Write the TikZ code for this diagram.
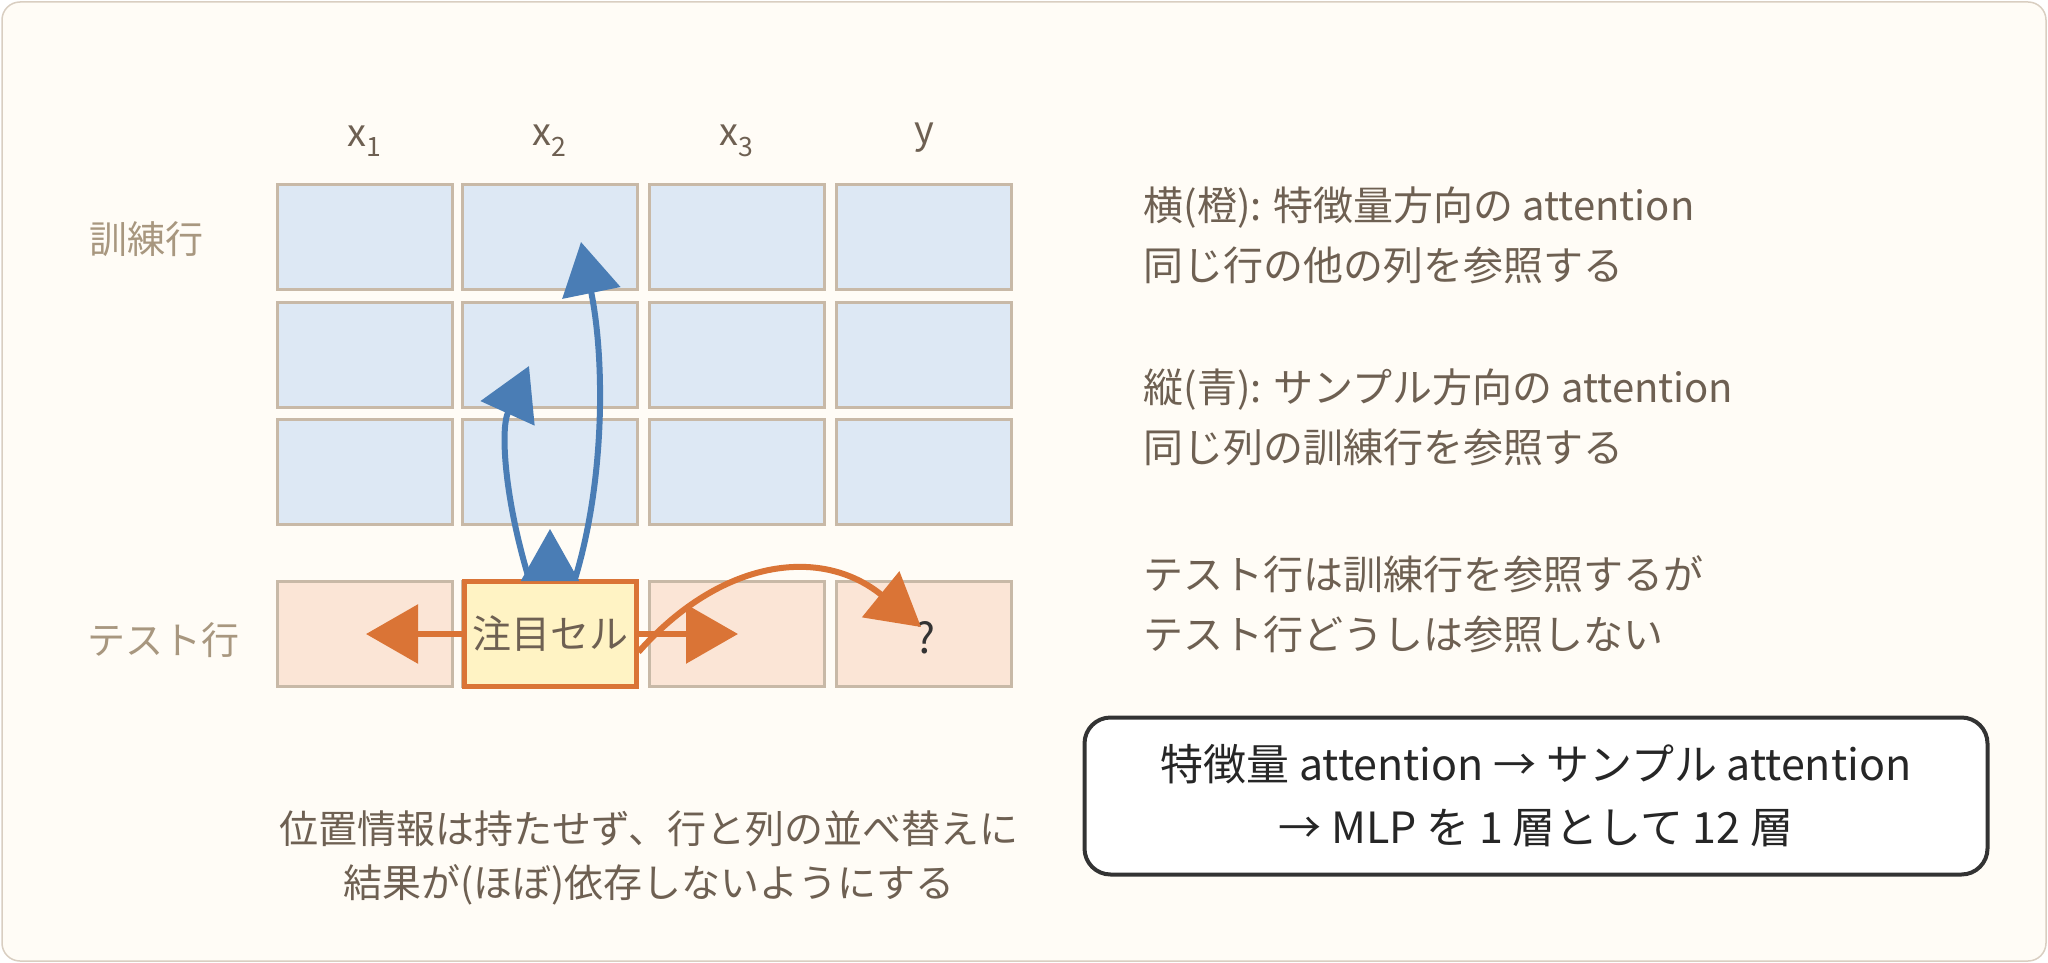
\documentclass[tikz,border=0pt]{standalone}
\usepackage{fontspec}
\setmainfont{Noto Sans CJK JP}
\usetikzlibrary{arrows.meta}
\definecolor{txt}{HTML}{6E6052}
\definecolor{lbl}{HTML}{A8977F}
\definecolor{cellb}{HTML}{DDE8F4}
\definecolor{celle}{HTML}{C8B9A7}
\definecolor{testf}{HTML}{FBE5D6}
\definecolor{focusf}{HTML}{FFF3C4}
\definecolor{orng}{HTML}{DA7436}
\definecolor{blu}{HTML}{4A7DB5}
\definecolor{paper}{HTML}{FFFCF6}
\tikzset{
  cell/.style={draw=celle, line width=3pt, minimum width=175pt, minimum height=105pt, inner sep=0pt},
  note/.style={text=txt, font=\fontsize{40}{60}\selectfont, anchor=west, align=left},
  big/.style={-{Triangle[width=58pt,length=52pt]}, line width=6pt}
}
\begin{document}
\begin{tikzpicture}[x=1pt,y=-1pt]
    \useasboundingbox (0,0) rectangle (2048,963);
    \draw [draw=celle!70, fill=paper, rounded corners=18pt, line width=1.5pt] (2,2) rectangle (2046,961);

    % grid
    \foreach \c/\x in {1/365, 2/550, 3/737, 4/924} {
        \foreach \r/\y in {1/237, 2/355, 3/472}
            \node [cell, fill=cellb] (c\r\c) at (\x, \y) {};
        \node [cell, fill=testf] (t\c) at (\x, 634) {};
    }
    \node [text=txt, font=\fontsize{38}{40}\selectfont] at (365, 141) {x\textsubscript{1}};
    \node [text=txt, font=\fontsize{38}{40}\selectfont] at (550, 141) {x\textsubscript{2}};
    \node [text=txt, font=\fontsize{38}{40}\selectfont] at (737, 141) {x\textsubscript{3}};
    \node [text=txt, font=\fontsize{38}{40}\selectfont] at (924, 138) {y};
    \node [text=lbl, font=\fontsize{38}{40}\selectfont] (train) at (146, 239) {訓練行};
    \node [text=lbl, font=\fontsize{38}{40}\selectfont] (test) at (163, 640) {テスト行};

    \node [cell, draw=orng, line width=5pt, fill=focusf, minimum width=172pt, text=txt,
           font=\fontsize{39}{40}\selectfont] (focus) at (550, 634) {注目セル};
    \node [text=black!80, font=\fontsize{42}{44}\selectfont] (q) at (925, 638) {?};

    % arrows
    \draw [big, orng] (focus.west) -- (366, 634);
    \draw [big, orng] (focus.east) -- (738, 634);
    \draw [big, orng] ([yshift=-18pt]focus.east) .. controls (720, 560) and (820, 545) .. (921, 627);
    \coordinate (up) at (550, 529);
    \draw [big, blu, line width=2pt] (focus.north) -- (up);
    \draw [big, blu] ([xshift=-21pt]focus.north) .. controls (505, 500) and (500, 430) .. (529, 366);
    \draw [big, blu] ([xshift=25pt]focus.north) .. controls (605, 480) and (605, 360) .. (581, 242);

    % notes
    \node [note] at (1140, 235) {横(橙): 特徴量方向の attention\\同じ行の他の列を参照する};
    \node [note] at (1140, 417) {縦(青): サンプル方向の attention\\同じ列の訓練行を参照する};
    \node [note] at (1140, 604) {テスト行は訓練行を参照するが\\テスト行どうしは参照しない};
    \node [draw=black!80, line width=4pt, rounded corners=26pt, fill=white, minimum width=903pt,
           minimum height=157pt, align=center, text=black!85, font=\fontsize{43}{63}\selectfont]
          (summary) at (1536, 796) {特徴量 attention → サンプル attention\\→ MLP を 1 層として 12 層};
    \node [text=txt, align=center, font=\fontsize{39}{54}\selectfont] (foot) at (649, 858)
          {位置情報は持たせず、行と列の並べ替えに\\結果が(ほぼ)依存しないようにする};
\end{tikzpicture}
\end{document}
